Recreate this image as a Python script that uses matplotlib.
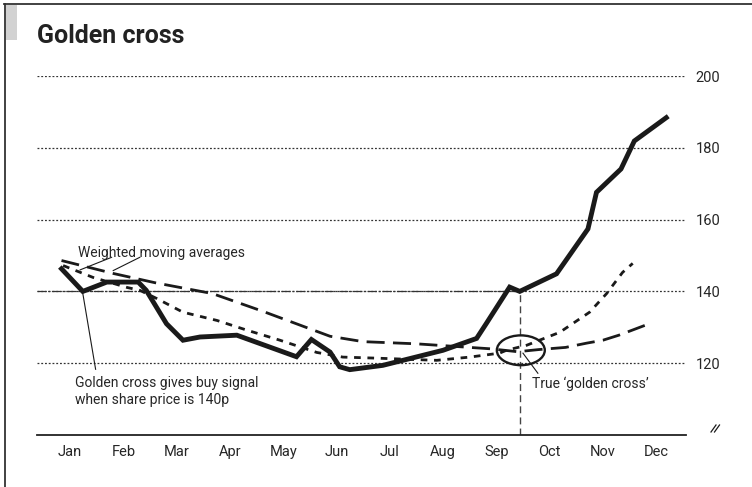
import matplotlib
matplotlib.use('Agg')
import matplotlib.pyplot as plt
from matplotlib.patches import Ellipse, Rectangle
from matplotlib.lines import Line2D

plt.rcParams['font.family'] = ['Roboto', 'DejaVu Sans']

# month labels along the bottom, one per index 0..11
months = ['Jan', 'Feb', 'Mar', 'Apr', 'May', 'Jun',
          'Jul', 'Aug', 'Sep', 'Oct', 'Nov', 'Dec']
y_ticks = [120, 140, 160, 180, 200]

# share price (x = fractional month index)
price_x = [-0.16, 0.24, 0.69, 1.28, 1.43, 1.81, 2.12, 2.44, 3.13, 4.25, 4.53,
           4.88, 5.06, 5.25, 5.87, 7.0, 7.63, 7.81, 8.25, 8.44, 9.13, 9.72,
           9.88, 10.34, 10.59, 11.19]
price_y = [146.3, 140.0, 142.6, 142.6, 140.3, 131.0, 126.4, 127.3, 127.8, 121.8,
           126.6, 123.1, 119.0, 118.2, 119.4, 123.6, 126.9, 131.0, 141.2, 140.0,
           144.9, 157.4, 167.6, 174.1, 181.9, 188.4]

# long-period weighted moving average
long_x = [-0.16, 0.81, 1.6, 2.67, 3.61, 4.88, 5.5, 6.5, 7.9, 8.4, 8.8, 9.3,
          9.7, 10.0, 10.3, 10.8]
long_y = [148.6, 145.0, 142.4, 139.4, 134.5, 127.5, 126.0, 125.4, 124.0, 123.2,
          123.8, 124.4, 125.6, 126.4, 127.8, 130.6]

# short-period weighted moving average
short_x = [-0.13, 0.43, 1.07, 1.31, 1.63, 2.12, 2.76, 3.32, 3.94, 4.63, 5.12,
           5.76, 6.88, 7.5, 8.06, 8.19, 8.57, 8.81, 9.19, 9.75, 10.07, 10.37,
           10.56]
short_y = [147.2, 143.9, 141.1, 140.3, 138.0, 134.2, 131.9, 129.2, 126.4, 123.0,
           121.7, 121.4, 120.8, 121.7, 122.8, 123.6, 125.0, 126.4, 128.6, 134.2,
           139.4, 145.3, 147.8]

cross_x = 8.44
cross_y = 140
signal_price = 140

ink = '#1a1a1a'
txt = '#262626'

fig = plt.figure(figsize=(7.52, 4.87), dpi=100)
ax = fig.add_axes([37 / 752, 1 - 435 / 487, 649 / 752, 359 / 487])
ax.set_xlim(-0.62, 11.56)
ax.set_ylim(100, 200)

# dotted gridlines
for v in y_ticks:
    ax.axhline(v, color='#333333', lw=0.9, ls=(0, (1.5, 1.5)), zorder=1)

# dash-dot line at the signal price up to the true cross
ax.plot([-0.62, cross_x], [signal_price, signal_price], color='#333333',
        lw=0.9, ls=(0, (7, 1.5, 1.5, 1.5)), zorder=1)
# vertical dashed marker at the true cross
ax.plot([cross_x, cross_x], [100, cross_y], color='#444444', lw=1.0,
        ls=(0, (5, 3)), zorder=1)

ax.plot(long_x, long_y, color=ink, lw=2.0, ls=(0, (6.5, 3.0)), zorder=3)
ax.plot(short_x, short_y, color=ink, lw=2.0, ls=(0, (2.4, 2.4)), zorder=3)
ax.plot(price_x, price_y, color=ink, lw=3.5, solid_joinstyle='miter', zorder=4)

ax.add_patch(Ellipse((8.46, 123.6), 0.9, 8.3, fill=False, ec=ink, lw=1.7,
                     zorder=5))

# annotations
ax.text(0.15, 150.8, 'Weighted moving averages', fontsize=10, color=txt,
        va='center', ha='left')
ax.plot([0.78, 0.19], [149.5, 146.0], color=ink, lw=0.8)
ax.plot([1.31, 0.81], [149.5, 145.8], color=ink, lw=0.8)

ax.text(0.09, 116.3, 'Golden cross gives buy signal\nwhen share price is 140p',
        fontsize=10, color=txt, va='top', ha='left', linespacing=1.2)
ax.plot([0.24, 0.48], [139.4, 118.3], color=ink, lw=0.8)

ax.text(8.67, 114.2, 'True \u2018golden cross\u2019', fontsize=10, color=txt,
        va='center', ha='left')
ax.plot([8.5, 8.78], [122.8, 117.2], color=ink, lw=0.8)

# axes styling
for s in ['top', 'right', 'left']:
    ax.spines[s].set_visible(False)
ax.spines['bottom'].set_color('#222222')
ax.spines['bottom'].set_linewidth(1.3)
ax.set_xticks(range(len(months)))
ax.set_xticklabels(months)
ax.set_yticks(y_ticks)
ax.yaxis.tick_right()
ax.tick_params(axis='x', length=0, pad=7, labelsize=10.5, labelcolor=txt)
ax.tick_params(axis='y', length=0, pad=7, labelsize=10.5, labelcolor=txt)

# axis break mark
W, H = 752, 487
for dx in (0, 3.5):
    fig.add_artist(Line2D([(711 + dx) / W, (716 + dx) / W],
                          [1 - 432 / H, 1 - 425 / H], color=ink, lw=0.9))

# title and frame
fig.text(37 / W, 1 - 43 / H, 'Golden cross', fontsize=18, fontweight='bold',
         color='#222222', va='baseline', ha='left')
fig.add_artist(Line2D([4 / W, 1], [1 - 4 / H, 1 - 4 / H], color='#333333',
                      lw=1.3))
fig.add_artist(Line2D([4.5 / W, 4.5 / W], [0, 1 - 4 / H], color='#333333',
                      lw=1.3))
fig.add_artist(Rectangle((5.5 / W, 1 - 40 / H), 11.5 / W, 35 / H,
                         transform=fig.transFigure, color='#d2d2d2', lw=0))

fig.savefig('out.png', dpi=100)
